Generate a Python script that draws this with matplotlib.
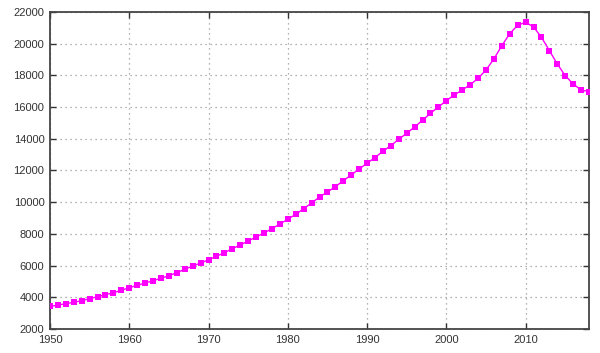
import matplotlib
matplotlib.use("Agg")
import matplotlib.pyplot as plt

years = list(range(1950, 2019))
values = [3420, 3510, 3597, 3685, 3785, 3912, 4038, 4164, 4290, 4442,
          4606, 4757, 4903, 5048, 5199, 5363, 5553, 5767, 5975, 6160,
          6370, 6587, 6814, 7067, 7300, 7553, 7805, 8058, 8329, 8626,
          8922, 9237, 9590, 9950, 10329, 10644, 10979, 11358, 11717, 12096,
          12455, 12820, 13213, 13567, 13971, 14349, 14747, 15170, 15612, 16009,
          16405, 16765, 17081, 17410, 17815, 18343, 19037, 19876, 20633, 21163,
          21353, 21057, 20406, 19561, 18722, 17983, 17458, 17081, 16974]

x_ticks = [1950, 1960, 1970, 1980, 1990, 2000, 2010]
y_ticks = list(range(2000, 22001, 2000))

plt.rcParams['font.family'] = ['Liberation Sans', 'DejaVu Sans']

fig = plt.figure(figsize=(6, 3.53), dpi=100)
ax = fig.add_axes([0.0833, 0.068, 0.8984, 0.898])

ax.plot(years, values, color='#ff00ff', linewidth=1.0, marker='s',
        markersize=3.8, markeredgewidth=0, zorder=3)

ax.set_xlim(1950, 2018)
ax.set_ylim(2000, 22000)
ax.set_xticks(x_ticks)
ax.set_yticks(y_ticks)
ax.grid(True, color='#999999', linestyle=(0, (1, 3)), linewidth=0.9)
ax.tick_params(direction='in', top=True, right=True, length=4, width=1,
               labelsize=8, colors='#333333', labelcolor='#333333', pad=4)
for s in ax.spines.values():
    s.set_color('#444444')
    s.set_linewidth(1.3)

fig.savefig('out.png', dpi=100)
